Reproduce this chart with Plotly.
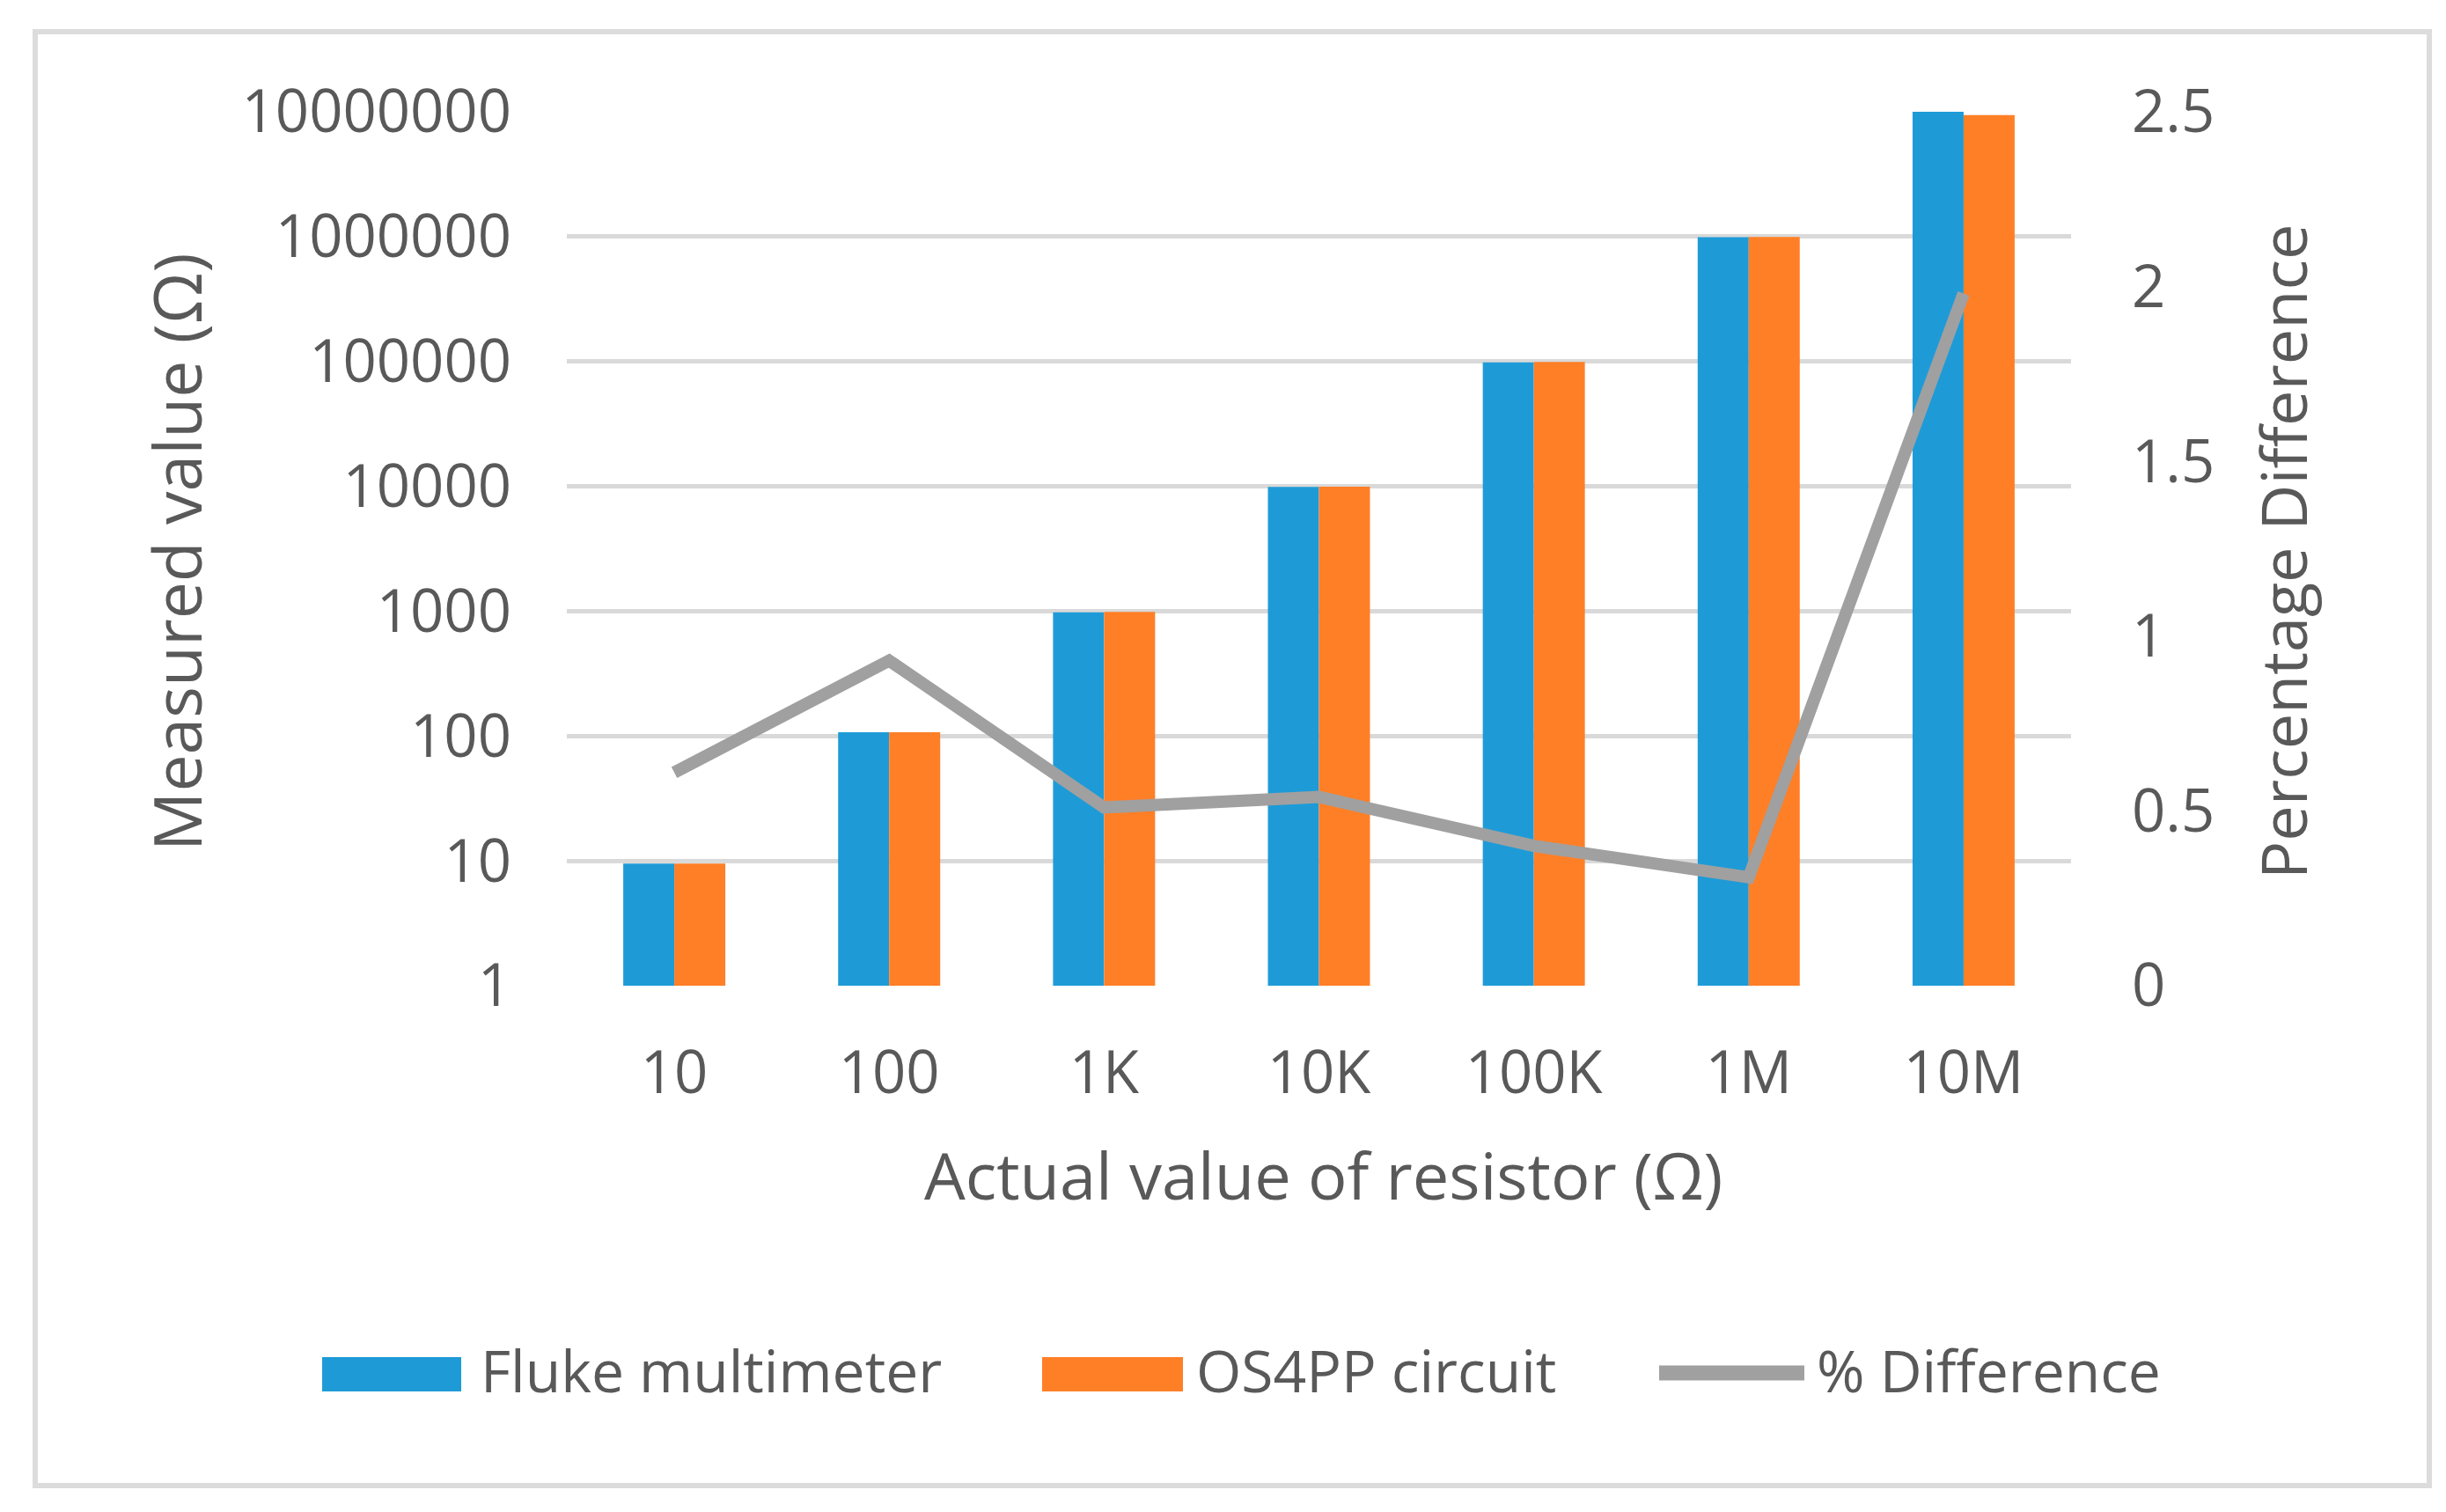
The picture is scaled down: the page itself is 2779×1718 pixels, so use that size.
import plotly.graph_objects as go

# --- data ---
resistors = ["10", "100", "1K", "10K", "100K", "1M", "10M"]
fluke = [9.5, 107, 980, 9900, 98500, 990000, 9980000]
os4pp = [9.5, 107, 985, 9950, 99000, 992000, 9400000]
pct_diff = [0.61, 0.93, 0.51, 0.54, 0.40, 0.31, 1.98]

y_tickvals = [1, 10, 100, 1000, 10000, 100000, 1000000, 10000000]
y_ticktext = ["1", "10", "100", "1000", "10000", "100000", "1000000", "10000000"]

BLUE = "#1E9BD7"
ORANGE = "#FF7F27"
GRAY = "#A0A0A0"
TEXT = "#595959"
GRID = "#D9D9D9"
FONT = "Open Sans"

# the page body has an 8px margin, so the figure is a bit smaller than the window
PAGE = 8
W, H = 2779 - 2 * PAGE, 1718 - 2 * PAGE
# plot area in window pixels
PL, PR, PT, PB = 644, 2353, 127, 1120


def px(x):
    # window pixel x -> paper x
    return (x - PL) / (PR - PL)


def py(y):
    # window pixel y -> paper y
    return (PB - y) / (PB - PT)


fig = go.Figure()

fig.add_trace(go.Bar(x=resistors, y=fluke, name="Fluke multimeter",
                     marker=dict(color=BLUE, line=dict(width=0))))
fig.add_trace(go.Bar(x=resistors, y=os4pp, name="OS4PP circuit",
                     marker=dict(color=ORANGE, line=dict(width=0))))
fig.add_trace(go.Scatter(x=resistors, y=pct_diff, name="% Difference", yaxis="y2",
                         mode="lines", line=dict(color=GRAY, width=14)))

fig.update_layout(
    width=W, height=H,
    margin=dict(l=PL - PAGE, r=W - (PR - PAGE), t=PT - PAGE, b=H - (PB - PAGE)),
    paper_bgcolor="white", plot_bgcolor="white",
    barmode="group", bargap=0.525, bargroupgap=0,
    showlegend=False,
    font=dict(family=FONT, size=67, color=TEXT),
    xaxis=dict(showgrid=False, showline=False, zeroline=False, ticks="",
               ticklabelstandoff=54, tickfont=dict(size=67, color=TEXT)),
    yaxis=dict(type="log", range=[0, 7], tickvals=y_tickvals, ticktext=y_ticktext,
               showgrid=True, gridcolor=GRID, gridwidth=5, zeroline=False,
               showline=False, ticks="", ticklabelstandoff=62,
               tickfont=dict(size=67, color=TEXT)),
    yaxis2=dict(overlaying="y", side="right", range=[0, 2.5], dtick=0.5,
                showgrid=False, zeroline=False, showline=False, ticks="",
                ticklabelstandoff=68, tickfont=dict(size=67, color=TEXT)),
)

# axis titles
fig.add_annotation(text="Measured value (Ω)", x=px(200), y=py(627), xref="paper", yref="paper",
                   xanchor="center", yanchor="middle", textangle=-90, showarrow=False,
                   font=dict(size=75, color=TEXT))
fig.add_annotation(text="Percentage Difference", x=px(2593), y=py(627), xref="paper", yref="paper",
                   xanchor="center", yanchor="middle", textangle=-90, showarrow=False,
                   font=dict(size=72, color=TEXT))
fig.add_annotation(text="Actual value of resistor (Ω)", x=px(1503), y=py(1334), xref="paper",
                   yref="paper", xanchor="center", yanchor="middle", showarrow=False,
                   font=dict(size=74, color=TEXT))

# legend drawn by hand to get the wide swatches
fig.add_shape(type="rect", xref="paper", yref="paper", x0=px(366), x1=px(524),
              y0=py(1542), y1=py(1581), fillcolor=BLUE, line=dict(width=0))
fig.add_shape(type="rect", xref="paper", yref="paper", x0=px(1184), x1=px(1344),
              y0=py(1542), y1=py(1581), fillcolor=ORANGE, line=dict(width=0))
fig.add_shape(type="line", xref="paper", yref="paper", x0=px(1885), x1=px(2050),
              y0=py(1560), y1=py(1560), line=dict(color=GRAY, width=17))
for label, xpos in [("Fluke multimeter", 544), ("OS4PP circuit", 1357), ("% Difference", 2062)]:
    fig.add_annotation(text=label, x=px(xpos), y=py(1556), xref="paper", yref="paper",
                       xanchor="left", yanchor="middle", showarrow=False,
                       font=dict(size=66, color=TEXT))

# outer frame
fig.add_shape(type="rect", xref="paper", yref="paper", x0=px(40), x1=px(2760),
              y0=py(36), y1=py(1688), line=dict(color="#DCDCDC", width=6))

fig.write_html("out.html")
